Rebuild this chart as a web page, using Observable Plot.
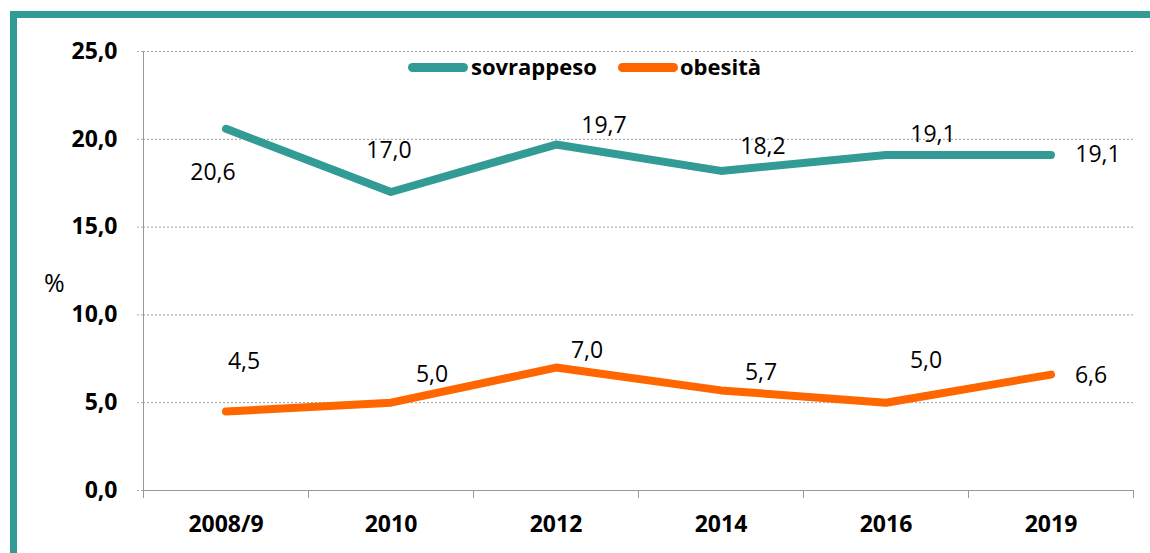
<!DOCTYPE html>
<html>
<head>
<meta charset="utf-8">
<script src="https://cdn.jsdelivr.net/npm/d3@7"></script>
<script src="https://cdn.jsdelivr.net/npm/@observablehq/plot@0.6"></script>
<style>
  html, body { margin: 0; padding: 0; background: #fff; }
  #wrap { position: relative; width: 1150px; height: 553px; overflow: hidden; font-family: "Open Sans", sans-serif; }
  #frame { position: absolute; left: 10px; top: 11px; width: 1200px; height: 600px; border-top: 7px solid #339B96; border-left: 7px solid #339B96; box-sizing: border-box; }
  #chart { position: absolute; left: 0; top: 0; }
  .lg-sw { position: absolute; height: 9px; border-radius: 5px; }
  .lg-tx { position: absolute; font-weight: bold; font-size: 22px; line-height: 22px; color: #000; }
  #ylab { position: absolute; left: 44px; top: 267px; font-size: 25px; line-height: 30px; color: #000; }
</style>
</head>
<body>
<div id="wrap">
  <div id="frame"></div>
  <div id="chart"></div>
  <div id="ylab">%</div>
  <div id="legend"></div>
</div>
<script>
const categories = ["2008/9", "2010", "2012", "2014", "2016", "2019"];
const sovrappeso = [20.6, 17.0, 19.7, 18.2, 19.1, 19.1];
const obesita = [4.5, 5.0, 7.0, 5.7, 5.0, 6.6];
const yTicks = [0, 5, 10, 15, 20, 25];
const seriesNames = ["sovrappeso", "obesità"];
const seriesColors = ["#339B96", "#FF6600"];

// label placement offsets (px) relative to each point
const sovOffsets = [[-13, 44], [-2, -41], [48, -19], [42, -24], [47, -20], [47, 0]];
const obeOffsets = [[18, -50], [41, -28], [31, -17], [40, -18], [40, -42], [40, 1]];

const fmt = v => v.toFixed(1).replace(".", ",");

const sovData = categories.map((c, i) => ({cat: c, i, v: sovrappeso[i]}));
const obeData = categories.map((c, i) => ({cat: c, i, v: obesita[i]}));

const labelMarks = [];
[[sovData, sovOffsets], [obeData, obeOffsets]].forEach(([data, offs]) => {
  data.forEach((d, k) => {
    labelMarks.push(Plot.text([d], {
      x: d => d.i + 0.5, y: "v", text: d => fmt(d.v),
      dx: offs[k][0], dy: offs[k][1],
      fontSize: 23, fill: "#000", textAnchor: "middle", lineAnchor: "middle"
    }));
  });
});

const chart = Plot.plot({
  width: 1150,
  height: 553,
  marginLeft: 143,
  marginRight: 17,
  marginTop: 51,
  marginBottom: 63,
  style: {fontFamily: "'Open Sans', sans-serif", background: "transparent", overflow: "visible"},
  x: {type: "linear", domain: [0, categories.length], axis: null},
  y: {domain: [0, 25], axis: null},
  marks: [
    Plot.gridY(yTicks.filter(t => t > 0), {stroke: "#999", strokeOpacity: 1, strokeDasharray: "2,2"}),
    Plot.axisY(yTicks, {
      tickSize: 8, tickPadding: 18, stroke: "#aaa", strokeDasharray: "2,2",
      tickFormat: fmt, fontSize: 23, fontWeight: "bold", fill: "#000", label: null
    }),
    Plot.axisX(d3.range(0, categories.length + 1), {
      tickSize: 8, stroke: "#999", tickFormat: () => "", label: null
    }),
    Plot.ruleY([0], {stroke: "#999", dx: 0}),
    Plot.ruleY([0], {x1: 0, x2: 0, stroke: "#999"}),
    Plot.ruleX([0], {stroke: "#999"}),
    Plot.text(categories, {
      x: (d, i) => i + 0.5, y: () => 0, text: d => d, dy: 34,
      fontSize: 23, fontWeight: "bold", fill: "#000", lineAnchor: "middle"
    }),
    Plot.line(sovData, {x: d => d.i + 0.5, y: "v", stroke: seriesColors[0], strokeWidth: 8, strokeLinecap: "round", strokeLinejoin: "round"}),
    Plot.line(obeData, {x: d => d.i + 0.5, y: "v", stroke: seriesColors[1], strokeWidth: 8, strokeLinecap: "round", strokeLinejoin: "round"}),
    ...labelMarks
  ]
});
document.getElementById("chart").appendChild(chart);

// extend the zero baseline a little to the left like a tick
const lg = document.getElementById("legend");
const legendLayout = [{sw: 408, tx: 471}, {sw: 618, tx: 680}];
seriesNames.forEach((name, k) => {
  const sw = document.createElement("div");
  sw.className = "lg-sw";
  sw.style.left = legendLayout[k].sw + "px";
  sw.style.top = "63px";
  sw.style.width = "60px";
  sw.style.background = seriesColors[k];
  lg.appendChild(sw);
  const tx = document.createElement("div");
  tx.className = "lg-tx";
  tx.style.left = legendLayout[k].tx + "px";
  tx.style.top = "55px";
  tx.textContent = name;
  lg.appendChild(tx);
});
</script>
</body>
</html>
